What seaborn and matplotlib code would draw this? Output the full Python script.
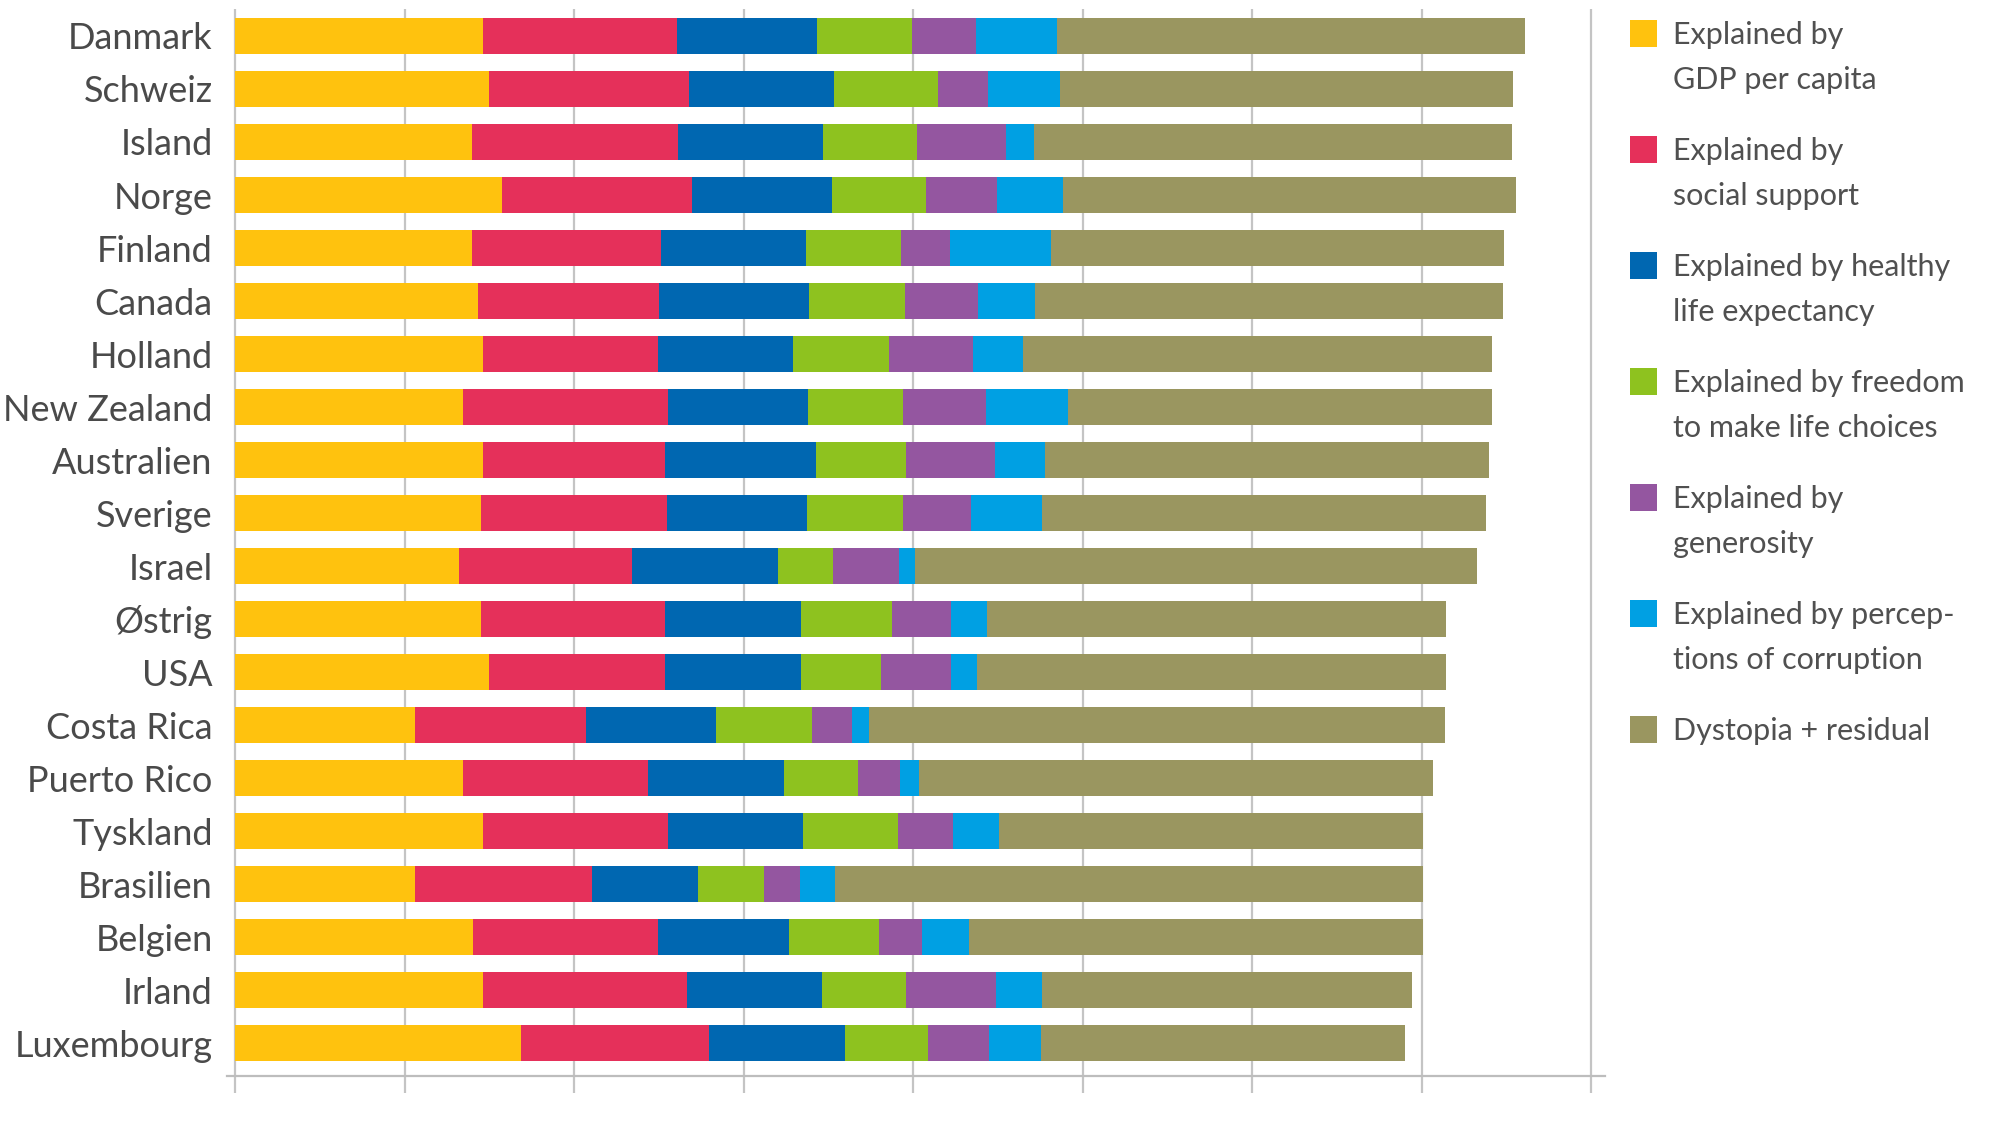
import pandas as pd
import matplotlib
matplotlib.use("Agg")
import matplotlib.pyplot as plt
import seaborn as sns
from matplotlib.patches import Rectangle

sns.set_theme(style="white")
plt.rcParams["font.family"] = ["Lato", "DejaVu Sans"]

# ------------------ data ------------------
countries = ["Danmark", "Schweiz", "Island", "Norge", "Finland", "Canada", "Holland",
             "New Zealand", "Australien", "Sverige", "Israel", "Østrig", "USA",
             "Costa Rica", "Puerto Rico", "Tyskland", "Brasilien", "Belgien",
             "Irland", "Luxembourg"]

gdp = [1.461, 1.496, 1.396, 1.577, 1.396, 1.436, 1.461, 1.347, 1.463, 1.450,
       1.320, 1.450, 1.496, 1.062, 1.347, 1.461, 1.062, 1.401, 1.463, 1.686]
social = [1.146, 1.184, 1.216, 1.119, 1.116, 1.068, 1.032, 1.206, 1.076, 1.097,
          1.024, 1.089, 1.043, 1.011, 1.089, 1.092, 1.044, 1.092, 1.204, 1.111]
health = [0.827, 0.854, 0.857, 0.827, 0.854, 0.884, 0.800, 0.826, 0.886, 0.827,
          0.859, 0.800, 0.800, 0.764, 0.800, 0.799, 0.628, 0.773, 0.794, 0.799]
freedom = [0.561, 0.615, 0.553, 0.555, 0.564, 0.566, 0.566, 0.564, 0.534, 0.564,
           0.325, 0.536, 0.474, 0.564, 0.442, 0.561, 0.388, 0.533, 0.496, 0.493]
generosity = [0.376, 0.292, 0.527, 0.415, 0.287, 0.430, 0.493, 0.490, 0.523, 0.406,
              0.388, 0.347, 0.409, 0.241, 0.243, 0.322, 0.209, 0.255, 0.530, 0.358]
corruption = [0.476, 0.425, 0.163, 0.389, 0.595, 0.333, 0.298, 0.479, 0.297, 0.419,
              0.095, 0.216, 0.157, 0.098, 0.117, 0.271, 0.211, 0.279, 0.276, 0.305]
dystopia = [2.766, 2.674, 2.820, 2.676, 2.674, 2.766, 2.768, 2.506, 2.620, 2.615,
            3.318, 2.707, 2.766, 3.399, 3.028, 2.503, 3.467, 2.676, 2.182, 2.152]

labels = ["Explained by\nGDP per capita",
          "Explained by\nsocial support",
          "Explained by healthy\nlife expectancy",
          "Explained by freedom\nto make life choices",
          "Explained by\ngenerosity",
          "Explained by percep-\ntions of corruption",
          "Dystopia + residual"]
colors = ["#FFC20E", "#E5305A", "#0067B1", "#8EC21F", "#9456A0", "#00A0E3", "#9A9660"]

df = pd.DataFrame({
    "gdp": gdp, "social": social, "health": health, "freedom": freedom,
    "generosity": generosity, "corruption": corruption, "dystopia": dystopia,
}, index=countries)
cum = df.cumsum(axis=1)

# ------------------ figure ------------------
fig = plt.figure(figsize=(20, 11.42), dpi=100)
ax = fig.add_axes([0.1133, 0.0578, 0.689, 0.9339])

# stacked bars: draw longest cumulative first, then overlay shorter ones
for col, c in reversed(list(zip(df.columns, colors))):
    sns.barplot(x=cum[col].values, y=countries, orient="h", color=c,
                saturation=1, width=0.68, errorbar=None, linewidth=0, ax=ax)

ax.set_xlim(-0.05, 8.08)
ax.set_ylim(19.62, -0.5)
ax.set_xticks(range(9))
ax.grid(axis="x", color="#c4c4c4", linewidth=1.6)
ax.grid(axis="y", visible=False)
ax.set_axisbelow(True)
for s in ["top", "right", "left"]:
    ax.spines[s].set_visible(False)
ax.spines["bottom"].set_color("#bdbdbd")
ax.spines["bottom"].set_linewidth(1.6)
ax.tick_params(axis="x", bottom=True, length=12, width=1.6, color="#c4c4c4",
               labelbottom=False)
ax.tick_params(axis="y", length=0, pad=10, labelsize=26, labelcolor="#4a4a4a")
ax.set_xlabel("")
ax.set_ylabel("")

# ------------------ legend (square on first text line) ------------------
W, H = 2000, 1142
for i, (lab, c) in enumerate(zip(labels, colors)):
    top = 20 + i * 116
    fig.add_artist(Rectangle((1630 / W, 1 - (top + 27) / H), 27 / W, 27 / H,
                             transform=fig.transFigure, color=c, lw=0))
    fig.text(1673 / W, 1 - (top + 1) / H, lab, va="top", ha="left",
             fontsize=22, color="#505050", linespacing=1.72)

fig.savefig("out.png", dpi=100)
